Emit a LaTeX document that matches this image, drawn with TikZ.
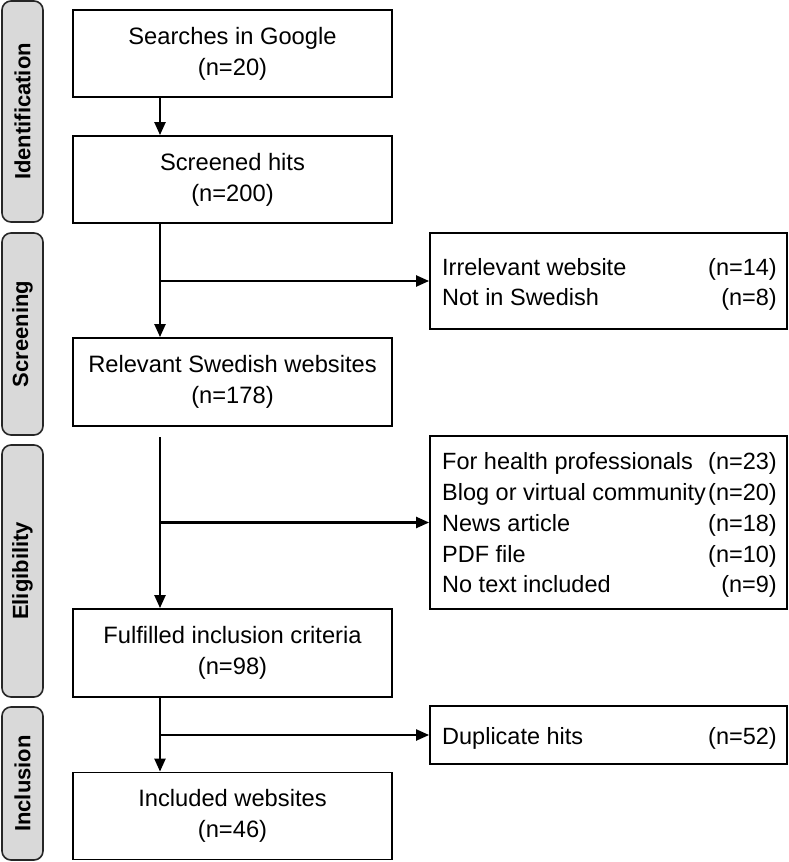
\documentclass[tikz,border=0pt]{standalone}
\usepackage{fontspec}
\setmainfont{Liberation Sans}
\usetikzlibrary{arrows.meta,calc}
\begin{document}
\begin{tikzpicture}[x=1pt,y=-1pt,
  mainbox/.style={draw=black,line width=1.8pt,minimum width=319pt,minimum height=87pt,inner sep=0pt,align=center,font=\fontsize{23.7}{31}\selectfont},
  sidebox/.style={draw=black,line width=1.8pt,inner sep=0pt,minimum width=357pt},
  phase/.style={draw=black!85,line width=1.6pt,fill=gray!30,rounded corners=9pt,inner sep=0pt,rotate=90,minimum height=41pt,font=\fontsize{22}{26}\selectfont\bfseries},
  itm/.style={anchor=base west,inner sep=0pt,font=\fontsize{23.5}{28}\selectfont},
  num/.style={anchor=base east,inner sep=0pt,font=\fontsize{23.5}{28}\selectfont},
  arr/.style={line width=2.2pt,-{Triangle[length=13pt,width=11pt]}}]
\useasboundingbox (0,0) rectangle (789,862);
% phase labels
\node[phase,minimum width=221pt] (p1) at (22.5,111.5) {Identification};
\node[phase,minimum width=202pt] (p2) at (22.5,334) {Screening};
\node[phase,minimum width=252pt] (p3) at (22.5,571) {Eligibility};
\node[phase,minimum width=153pt] (p4) at (22.5,783.5) {Inclusion};
% main boxes
\node[mainbox] (b1) at (232.5,53.5) {Searches in Google\\(n=20)};
\node[mainbox] (b2) at (232.5,179.5) {Screened hits\\(n=200)};
\node[mainbox,minimum height=88pt] (b3) at (232.5,382) {Relevant Swedish websites\\(n=178)};
\node[mainbox,minimum height=88pt] (b4) at (232.5,653) {Fulfilled inclusion criteria\\(n=98)};
\node[mainbox,minimum height=87pt] (b5) at (232.5,816) {Included websites\\(n=46)};
% side boxes
\node[sidebox,minimum height=96pt] (e1) at (608.5,281) {};
\node[sidebox,minimum height=173pt] (e2) at (608.5,522.5) {};
\node[sidebox,minimum height=58pt] (e3) at (608.5,735) {};
% side texts
\node[itm] (t11) at (442,275) {Irrelevant website};
\node[num] (n11) at (777,275) {(n=14)};
\node[itm] (t12) at (442,305) {Not in Swedish};
\node[num] (n12) at (777,305) {(n=8)};
\node[itm] (t21) at (442,469) {For health professionals};
\node[num] (n21) at (777,469) {(n=23)};
\node[itm] (t22) at (442,500) {Blog or virtual community};
\node[num] (n22) at (777,500) {(n=20)};
\node[itm] (t23) at (442,531) {News article};
\node[num] (n23) at (777,531) {(n=18)};
\node[itm] (t24) at (442,562) {PDF file};
\node[num] (n24) at (777,562) {(n=10)};
\node[itm] (t25) at (442,592) {No text included};
\node[num] (n25) at (777,592) {(n=9)};
\node[itm] (t31) at (442,744) {Duplicate hits};
\node[num] (n31) at (777,744) {(n=52)};
% connectors
\coordinate (ax) at (160,0);
\coordinate (s3) at (160,437);
\draw[arr] (b1.south -| ax) -- (b2.north -| ax);
\draw[arr] (b2.south -| ax) -- (b3.north -| ax);
\draw[arr] (ax |- e1.west) -- (e1.west);
\draw[arr] (s3) -- (b4.north -| ax);
\draw[arr] (ax |- e2.west) -- (e2.west);
\draw[arr] (b4.south -| ax) -- (b5.north -| ax);
\draw[arr] (ax |- e3.west) -- (e3.west);
\end{tikzpicture}
\end{document}
